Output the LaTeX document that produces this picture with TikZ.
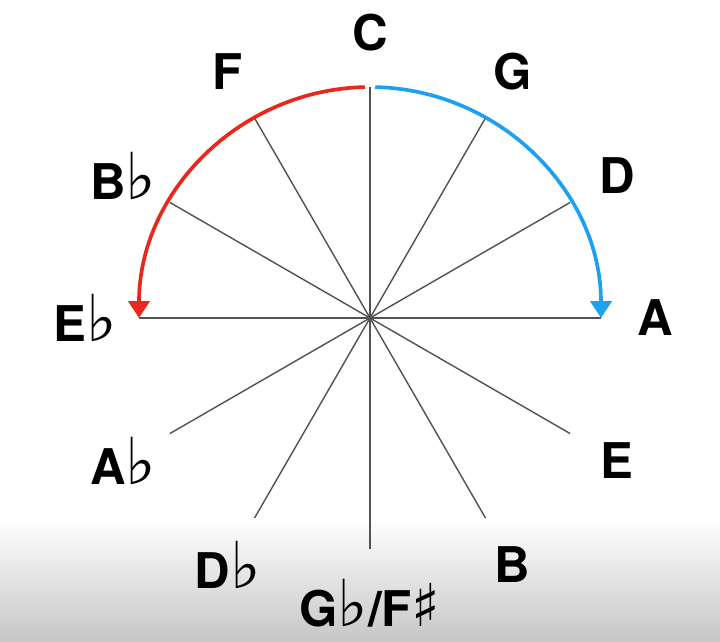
\documentclass[tikz,border=0pt]{standalone}
\usepackage{fontspec}
\setmainfont{TeX Gyre Heros}
\newfontfamily\symfont{DejaVu Sans}
\usetikzlibrary{arrows.meta}
\definecolor{fourthred}{RGB}{232,40,28}
\definecolor{fifthblue}{RGB}{30,160,240}
\newcommand{\flatsign}{{\symfont\mdseries\fontsize{46}{46}\selectfont ♭}}
\newcommand{\sharpsign}{{\symfont\mdseries\fontsize{42}{42}\selectfont ♯}}

\begin{document}
\begin{tikzpicture}[x=0.025cm,y=0.025cm,
  spoke/.style={draw=black!68,line width=1pt},
  note/.style={font=\fontsize{35}{40}\selectfont\bfseries,inner sep=0pt},
  fifths/.style={line width=2.6pt,-{Triangle[length=12pt,width=15pt]}}]
% page and the grey band at the bottom
\useasboundingbox (-370,-323) rectangle (350,318);
\fill[white] (-370,-323) rectangle (350,318);
\shade[top color=white,bottom color=black!22] (-370,-323) rectangle (350,-200);
% spokes
\coordinate (o) at (0,0);
\foreach \a in {0,30,...,330}
  \coordinate (r\a) at (\a:231);
\foreach \a in {0,30,...,330}
  \draw[spoke] (o) -- (r\a);
% note names
\foreach \a/\n/\t in {90/C/C, 60/G/G, 30/D/D, 0/A/A, -30/E/E, -60/B/B,
    -90/Gb/{G\flatsign/F\sharpsign}, -120/Db/{D\flatsign}, -150/Ab/{A\flatsign},
    180/Eb/{E\flatsign}, 150/Bb/{B\flatsign}, 120/F/F}
  \node[note] (n\n) at (\a:285) {\t};
% arrows round the circle
\coordinate (redstart) at (91.3:231);
\coordinate (bluestart) at (88.7:231);
\draw[fifths,fourthred] (redstart) arc[start angle=91.3,end angle=180,radius=231];
\draw[fifths,fifthblue] (bluestart) arc[start angle=88.7,end angle=0,radius=231];
\end{tikzpicture}
\end{document}
